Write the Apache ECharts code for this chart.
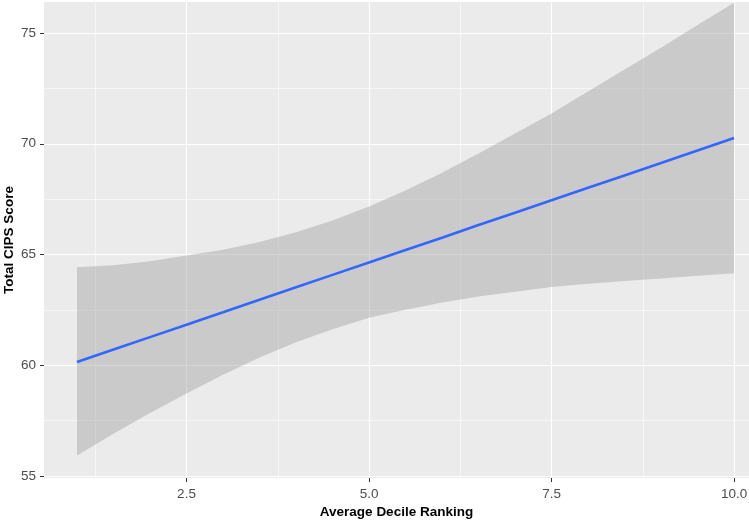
<!DOCTYPE html>
<html><head><meta charset="utf-8">
<script src="https://cdn.jsdelivr.net/npm/echarts@6/dist/echarts.min.js"></script>
<style>html,body{margin:0;padding:0;background:#fff}#c{width:749px;height:523px}</style>
</head><body><div id="c"></div>
<script>
const xPoints = [1, 1.5, 2, 2.5, 3, 3.5, 4, 4.5, 5, 5.5, 6, 6.5, 7, 7.5, 8, 8.5, 9, 9.5, 10];
const fitLine = [60.15, 60.71, 61.27, 61.83, 62.39, 62.96, 63.52, 64.08, 64.64, 65.20, 65.76, 66.33, 66.89, 67.45, 68.01, 68.57, 69.13, 69.70, 70.26];
const ciLower = [55.93, 56.91, 57.84, 58.73, 59.57, 60.35, 61.04, 61.63, 62.14, 62.51, 62.83, 63.10, 63.32, 63.53, 63.68, 63.80, 63.92, 64.04, 64.15];
const ciUpper = [64.43, 64.51, 64.70, 64.95, 65.21, 65.57, 66.00, 66.53, 67.17, 67.89, 68.69, 69.56, 70.46, 71.37, 72.36, 73.35, 74.34, 75.36, 76.37];

const xMajorTicks = [2.5, 5, 7.5, 10];
const xMajorLabels = ['2.5', '5.0', '7.5', '10.0'];
const xMinorTicks = [1.25, 3.75, 6.25, 8.75];
const yMajorTicks = [55, 60, 65, 70, 75];
const yMajorLabels = ['55', '60', '65', '70', '75'];
const yMinorTicks = [57.5, 62.5, 67.5, 72.5];

const xTitle = 'Average Decile Ranking';
const yTitle = 'Total CIPS Score';

const FONT = '"Liberation Sans", Arial, Helvetica, sans-serif';
const X_MIN = 0.548, X_MAX = 10.205, Y_MIN = 54.91, Y_MAX = 76.40;

function labelFor(ticks, labels) {
  return function (v) {
    for (let i = 0; i < ticks.length; i++) if (Math.abs(ticks[i] - v) < 1e-6) return labels[i];
    return '';
  };
}

const chart = echarts.init(document.getElementById('c'), null, { renderer: 'canvas' });
chart.setOption({
  animation: false,
  backgroundColor: '#ffffff',
  grid: { left: 44, right: 0, top: 2, bottom: 45, show: true, backgroundColor: '#EBEBEB', borderWidth: 0, containLabel: false, outerBoundsMode: 'none' },
  xAxis: [
    {
      type: 'value', min: X_MIN, max: X_MAX, position: 'bottom',
      axisLine: { show: false },
      axisTick: { show: true, customValues: xMajorTicks, length: 4, lineStyle: { color: '#333333', width: 1 } },
      axisLabel: { customValues: xMajorTicks, formatter: labelFor(xMajorTicks, xMajorLabels), color: '#4D4D4D', fontSize: 13.5, fontFamily: FONT, margin: 9 },
      splitLine: { show: true, lineStyle: { color: '#FFFFFF', width: 1.1 } },
      name: xTitle, nameLocation: 'middle', nameGap: 27, nameMoveOverlap: false,
      nameTextStyle: { color: '#000000', fontWeight: 'bold', fontSize: 13.5, fontFamily: FONT }
    },
    {
      type: 'value', min: X_MIN, max: X_MAX, position: 'bottom',
      axisLine: { show: false },
      axisTick: { show: false, customValues: xMinorTicks },
      axisLabel: { show: false, customValues: xMinorTicks },
      splitLine: { show: true, lineStyle: { color: '#FFFFFF', width: 0.55 } }
    }
  ],
  yAxis: [
    {
      type: 'value', min: Y_MIN, max: Y_MAX, position: 'left',
      axisLine: { show: false },
      axisTick: { show: true, customValues: yMajorTicks, length: 4, lineStyle: { color: '#333333', width: 1 } },
      axisLabel: { customValues: yMajorTicks, formatter: labelFor(yMajorTicks, yMajorLabels), color: '#4D4D4D', fontSize: 13.5, fontFamily: FONT, margin: 8 },
      splitLine: { show: true, lineStyle: { color: '#FFFFFF', width: 1.1 } },
      name: yTitle, nameLocation: 'middle', nameGap: 28, nameRotate: 90, nameMoveOverlap: false,
      nameTextStyle: { color: '#000000', fontWeight: 'bold', fontSize: 13.5, fontFamily: FONT }
    },
    {
      type: 'value', min: Y_MIN, max: Y_MAX, position: 'left',
      axisLine: { show: false },
      axisTick: { show: false, customValues: yMinorTicks },
      axisLabel: { show: false, customValues: yMinorTicks },
      splitLine: { show: true, lineStyle: { color: '#FFFFFF', width: 0.55 } }
    }
  ],
  series: [
    {
      type: 'custom', xAxisIndex: 0, yAxisIndex: 0, silent: true,
      data: [[xPoints[0], ciLower[0]]],
      renderItem: function (params, api) {
        if (params.dataIndex !== 0) return null;
        const pts = [];
        for (let i = 0; i < xPoints.length; i++) pts.push(api.coord([xPoints[i], ciUpper[i]]));
        for (let i = xPoints.length - 1; i >= 0; i--) pts.push(api.coord([xPoints[i], ciLower[i]]));
        return { type: 'polygon', shape: { points: pts }, style: { fill: '#999999', opacity: 0.4 } };
      },
      z: 3
    },
    {
      type: 'line', xAxisIndex: 0, yAxisIndex: 0, silent: true,
      data: xPoints.map((x, i) => [x, fitLine[i]]),
      showSymbol: false, symbol: 'none',
      lineStyle: { color: '#3366FF', width: 2.6 },
      z: 4
    }
  ]
});
</script>
</body></html>
